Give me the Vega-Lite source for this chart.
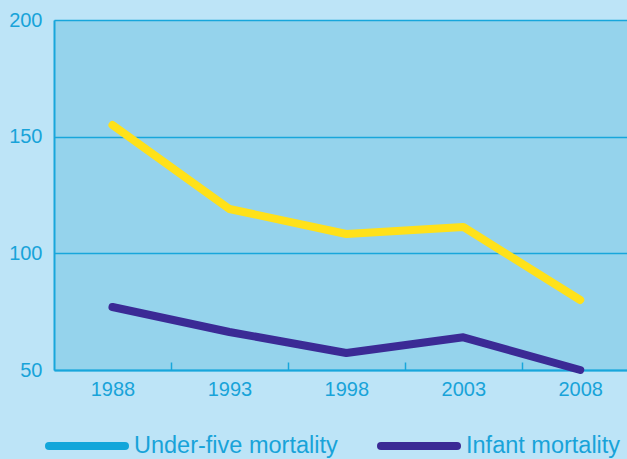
{
  "$schema": "https://vega.github.io/schema/vega-lite/v6.json",
  "autosize": {"type": "none"},
  "padding": {"left": 54, "top": 20, "right": 0, "bottom": 89},
  "width": 573,
  "height": 350,
  "background": "#bde4f7",
  "config": {
    "view": {"fill": "#95d3ec", "stroke": null},
    "font": "Liberation Sans"
  },
  "data": {
    "values": [
      {"year": 1988, "series": "Under-five mortality", "value": 155},
      {"year": 1993, "series": "Under-five mortality", "value": 119},
      {"year": 1998, "series": "Under-five mortality", "value": 108.3},
      {"year": 2003, "series": "Under-five mortality", "value": 111.3},
      {"year": 2008, "series": "Under-five mortality", "value": 80},
      {"year": 1988, "series": "Infant mortality", "value": 77},
      {"year": 1993, "series": "Infant mortality", "value": 66.3},
      {"year": 1998, "series": "Infant mortality", "value": 57.3},
      {"year": 2003, "series": "Infant mortality", "value": 64},
      {"year": 2008, "series": "Infant mortality", "value": 50}
    ]
  },
  "encoding": {
    "x": {
      "field": "year", "type": "quantitative",
      "scale": {"domain": [1985.5, 2010], "nice": false, "zero": false},
      "axis": {
        "title": null, "values": [1988, 1993, 1998, 2003, 2008], "format": "d",
        "grid": false, "domainColor": "#18a6db", "domainWidth": 2,
        "ticks": true, "tickColor": "#18a6db", "tickWidth": 1.5, "tickSize": -8,
        "tickOffset": 58.5, "labelOffset": -58.5,
        "labelColor": "#18a3d9", "labelFontSize": 20, "labelPadding": 17
      }
    },
    "y": {
      "field": "value", "type": "quantitative",
      "scale": {"domain": [50, 200], "nice": false, "zero": false},
      "axis": {
        "title": null, "values": [50, 100, 150, 200],
        "grid": true, "gridColor": "#18a6db", "gridWidth": 1.5, "gridOpacity": 1,
        "domainColor": "#18a6db", "domainWidth": 2, "ticks": false,
        "labelColor": "#18a3d9", "labelFontSize": 20, "labelPadding": 12
      }
    }
  },
  "layer": [
    {
      "mark": {"type": "line", "strokeWidth": 8, "strokeCap": "round", "strokeJoin": "round", "clip": false},
      "encoding": {
        "color": {
          "field": "series", "type": "nominal",
          "scale": {"domain": ["Under-five mortality", "Infant mortality"], "range": ["#ffe11a", "#3b2a95"]},
          "legend": null
        }
      }
    },
    {
      "transform": [{"filter": "datum.year > 3000"}],
      "mark": {"type": "line", "strokeWidth": 8, "strokeCap": "round"},
      "encoding": {
        "color": {
          "field": "series", "type": "nominal",
          "scale": {"domain": ["Under-five mortality", "Infant mortality"], "range": ["#13a6da", "#3b2a95"]},
          "legend": {
            "title": null, "orient": "none", "direction": "horizontal",
            "legendX": -9, "legendY": 384,
            "symbolType": "stroke", "symbolSize": 5776, "symbolStrokeWidth": 8,
            "columnPadding": 27, "labelFontSize": 23.5, "labelColor": "#18a3d9",
            "labelOffset": 5, "labelLimit": 400,
            "encode": {
              "symbols": {"update": {"strokeCap": {"value": "round"}}}
            }
          }
        }
      }
    }
  ],
  "resolve": {"scale": {"color": "independent"}}
}
